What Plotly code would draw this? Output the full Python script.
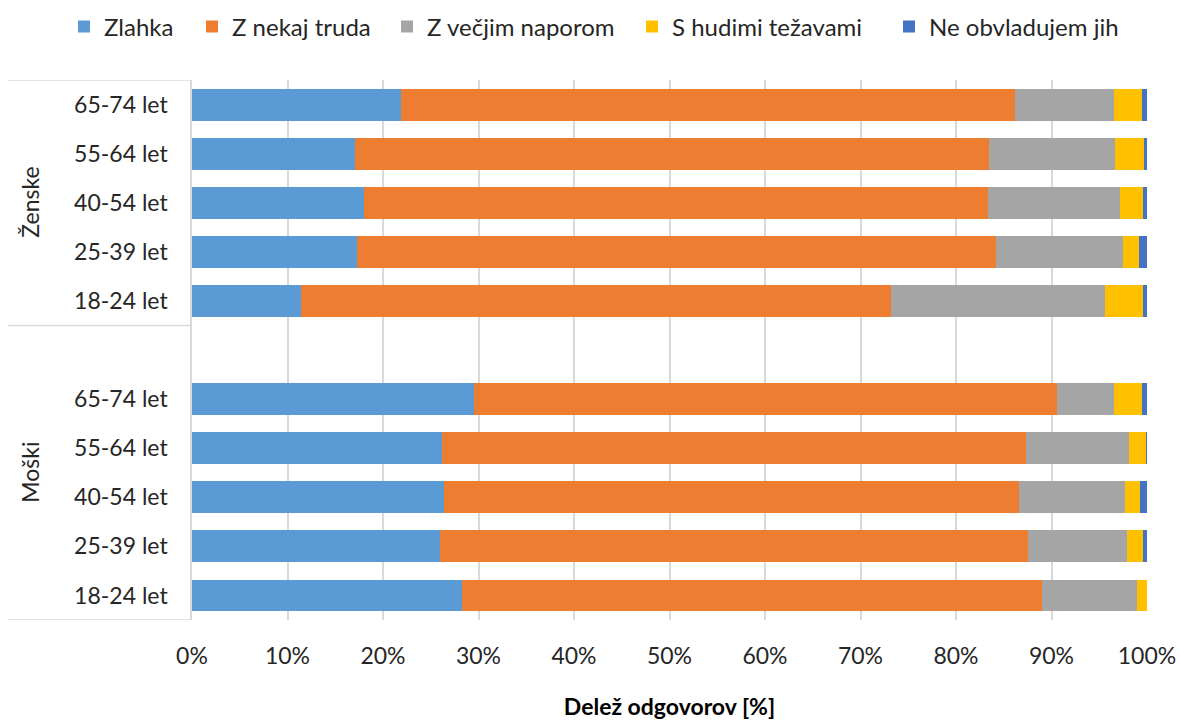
import plotly.graph_objects as go

# Age groups within each gender block, listed top to bottom
ages = ["65-74 let", "55-64 let", "40-54 let", "25-39 let", "18-24 let"]
groups = ["Ženske", "Moški"]

series_names = ["Zlahka", "Z nekaj truda", "Z večjim naporom", "S hudimi težavami", "Ne obvladujem jih"]
series_colors = ["#5B9BD5", "#ED7D31", "#A5A5A5", "#FFC000", "#4472C4"]

# Shares [%] per answer, ordered as in `ages`
zenske_zlahka = [21.9, 17.1, 18.0, 17.3, 11.4]
zenske_nekaj = [64.3, 66.4, 65.4, 66.9, 61.8]
zenske_vecjim = [10.3, 13.1, 13.8, 13.3, 22.4]
zenske_hudimi = [3.0, 3.1, 2.4, 1.7, 4.0]
zenske_ne = [0.5, 0.3, 0.4, 0.8, 0.4]

moski_zlahka = [29.5, 26.2, 26.4, 26.0, 28.3]
moski_nekaj = [61.1, 61.1, 60.2, 61.5, 60.7]
moski_vecjim = [5.9, 10.8, 11.1, 10.4, 9.9]
moski_hudimi = [3.0, 1.8, 1.6, 1.7, 1.1]
moski_ne = [0.5, 0.1, 0.7, 0.4, 0.0]

x_ticks = [0, 10, 20, 30, 40, 50, 60, 70, 80, 90, 100]
x_ticktext = [f"{v}%" for v in x_ticks]

FONT = "Lato"
TXT = "#262626"
GRID = "#D9D9D9"
TICK_SIZE = 23
LEGEND_SIZE = 24

# Left edge (px) of each legend entry along the top row
legend_left_px = [64, 192, 387, 632, 889]

# Category slots: women in 0..4, an empty spacer slot 5, men in 6..10
n = len(ages)
pos_z = list(range(n))
pos_m = [n + 1 + i for i in range(n)]
positions = pos_z + pos_m
labels = ages + ages

data = [
    zenske_zlahka + moski_zlahka,
    zenske_nekaj + moski_nekaj,
    zenske_vecjim + moski_vecjim,
    zenske_hudimi + moski_hudimi,
    zenske_ne + moski_ne,
]

W, H = 1180, 720
fig = go.Figure()
legend_layouts = {}
for i, (name, color, vals) in enumerate(zip(series_names, series_colors, data)):
    key = "legend" if i == 0 else f"legend{i + 1}"
    fig.add_trace(go.Bar(
        name=name,
        orientation="h",
        x=vals,
        y=positions,
        width=0.65,
        marker=dict(color=color, line=dict(width=0)),
        legend=key,
        showlegend=True,
    ))
    legend_layouts[key] = dict(
        orientation="h",
        xref="container", yref="container",
        x=legend_left_px[i] / W, xanchor="left",
        y=1 - 27 / H, yanchor="middle",
        font=dict(family=FONT, size=LEGEND_SIZE, color=TXT),
        itemwidth=30,
        bgcolor="rgba(0,0,0,0)",
    )

total_slots = 2 * n + 1
fig.update_layout(
    barmode="stack",
    width=W,
    height=H,
    showlegend=True,
    margin=dict(l=192, r=33, t=80, b=100, autoexpand=False),
    paper_bgcolor="white",
    plot_bgcolor="white",
    font=dict(family=FONT, size=TICK_SIZE, color=TXT),
    bargap=0,
    xaxis=dict(
        range=[0, 100],
        tickvals=x_ticks,
        ticktext=x_ticktext,
        showgrid=True,
        gridcolor=GRID,
        gridwidth=1.5,
        zeroline=False,
        showline=False,
        ticks="",
        ticklabelstandoff=20,
        tickfont=dict(family=FONT, size=TICK_SIZE, color=TXT),
        title=dict(text="<b>Delež odgovorov [%]</b>", font=dict(family=FONT, size=TICK_SIZE, color="#000000"), standoff=30),
    ),
    yaxis=dict(
        range=[total_slots - 0.5, -0.5],
        tickvals=positions,
        ticktext=labels,
        showgrid=False,
        zeroline=False,
        showline=True,
        linecolor=GRID,
        linewidth=1.5,
        ticks="",
        ticklabelstandoff=18,
        tickfont=dict(family=FONT, size=TICK_SIZE, color=TXT),
    ),
    **legend_layouts,
)

# Group label box: horizontal dividers on the category side
left_edge = -184 / 955
for yb in [-0.5, n - 0.5, total_slots - 0.5]:
    fig.add_shape(type="line", xref="paper", yref="y",
                  x0=left_edge, x1=0, y0=yb, y1=yb,
                  line=dict(color=GRID, width=1.5))

# Rotated gender labels
group_centers = [sum(pos_z) / n, (n + (total_slots - 1)) / 2]
for g, yc in zip(groups, group_centers):
    fig.add_annotation(text=g, xref="paper", yref="y", x=-162 / 955, y=yc,
                       textangle=-90, showarrow=False, xanchor="center", yanchor="middle",
                       font=dict(family=FONT, size=TICK_SIZE, color=TXT))

fig.write_html("out.html")
